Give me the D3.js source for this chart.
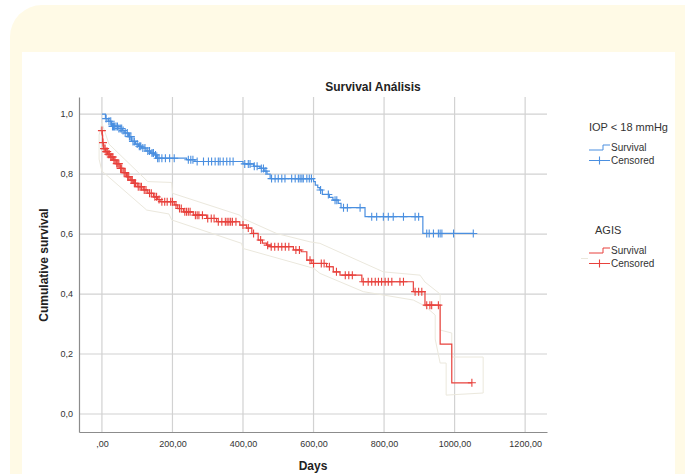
<!DOCTYPE html>
<html>
<head>
<meta charset="utf-8">
<script src="https://cdn.jsdelivr.net/npm/d3@7"></script>
<style>
  body { margin: 0; background: #ffffff; }
  svg { display: block; font-family: "Liberation Sans", Arial, sans-serif; }
</style>
</head>
<body>
<svg id="chart" width="685" height="474"></svg>
<script>
// Kaplan-Meier steps: [day, cumulative survival after that day]
var iopSteps = [[0,1.0],[10,0.985],[18,0.976],[27,0.959],[45,0.952],[58,0.945],[65,0.937],[75,0.925],
  [84,0.909],[95,0.9],[104,0.893],[112,0.887],[125,0.877],[138,0.87],[150,0.864],[155,0.853],
  [240,0.848],[264,0.842],[400,0.834],[430,0.826],[448,0.819],[460,0.81],[468,0.8],[477,0.785],
  [600,0.775],[605,0.763],[612,0.755],[618,0.747],[625,0.732],[645,0.722],[655,0.713],[670,0.702],
  [678,0.688],[746,0.658],[910,0.602]];
var iopEnd = 1053;
var iopCensored = [12,20,25,30,33,36,40,44,48,52,56,60,66,72,78,82,88,92,100,106,110,116,122,130,135,
  142,146,152,158,162,170,180,192,205,245,252,258,270,288,302,311,321,330,335,344,354,363,372,
  405,415,420,432,440,452,458,465,481,491,500,510,519,538,548,557,562,567,571,581,588,594,
  620,642,661,666,685,696,732,765,779,798,812,826,855,888,898,921,928,940,954,959,964,997,1053];

var agisSteps = [[0,0.945],[1,0.93],[2,0.905],[4,0.885],[10,0.875],[16,0.866],[24,0.857],[32,0.847],
  [40,0.835],[51,0.819],[60,0.805],[70,0.791],[80,0.78],[89,0.769],[100,0.758],[117,0.747],
  [130,0.736],[146,0.724],[158,0.715],[165,0.708],[205,0.697],[215,0.685],[231,0.674],[259,0.663],
  [297,0.652],[325,0.641],[391,0.63],[410,0.62],[425,0.602],[443,0.58],[455,0.57],[467,0.563],
  [477,0.558],[543,0.547],[565,0.541],[581,0.513],[595,0.502],[637,0.491],[656,0.474],[675,0.463],
  [737,0.441],[883,0.408],[916,0.363],[959,0.233],[992,0.104]];
var agisEnd = 1049;
var agisCensored = [0,3,6,9,12,15,18,21,25,28,31,34,37,42,45,48,53,56,63,66,73,76,83,86,92,95,103,108,
  112,120,125,135,140,150,155,162,170,178,185,195,200,210,220,225,235,240,245,250,265,270,275,285,
  300,310,318,330,340,350,355,360,365,370,380,400,415,430,450,470,480,490,500,510,520,530,550,560,
  590,600,622,630,645,665,690,700,710,741,755,765,775,784,793,803,812,822,845,855,888,898,907,
  921,930,935,954,1049];

// 95% confidence band outline of AGIS, read as corner points
var agisUpper = [[0,0.97],[20,0.90],[130,0.775],[198,0.772],[200,0.736],[391,0.663],[400,0.652],
  [495,0.602],[590,0.574],[618,0.569],[798,0.474],[902,0.463],[916,0.44],[959,0.40],[959,0.28],
  [992,0.27],[992,0.19],[1081,0.19],[1081,0.07]];
var agisLower = [[0,0.97],[-8,0.93],[-8,0.85],[0,0.81],[127,0.68],[190,0.667],[198,0.647],[396,0.569],[400,0.552],
  [600,0.486],[618,0.469],[741,0.408],[883,0.38],[916,0.36],[945,0.33],[945,0.25],[959,0.17],
  [976,0.17],[976,0.063],[1081,0.07]];

var xTicks = [0, 200, 400, 600, 800, 1000, 1200];
var yTicks = [0, 0.2, 0.4, 0.6, 0.8, 1.0];

var blue = "#4a8fe0", red = "#e8413c", band = "#ebe8dd";

var svg = d3.select("#chart");

// card background
svg.append("rect").attr("x", 10).attr("y", 5).attr("width", 720).attr("height", 520)
  .attr("rx", 32).attr("fill", "#fffae6");
svg.append("rect").attr("x", 22).attr("y", 52).attr("width", 653).attr("height", 430)
  .attr("fill", "#ffffff");

var x = d3.scaleLinear().domain([-65, 1262]).range([79, 547]);
var y = d3.scaleLinear().domain([-0.06, 1.057]).range([432, 97]);

// grid
svg.append("g").selectAll("line").data(xTicks).join("line")
  .attr("x1", d => x(d)).attr("x2", d => x(d)).attr("y1", 97).attr("y2", 432)
  .attr("stroke", "#d2d2d2").attr("stroke-width", 1.2);
svg.append("g").selectAll("line").data(yTicks).join("line")
  .attr("x1", 79).attr("x2", 547).attr("y1", d => y(d)).attr("y2", d => y(d))
  .attr("stroke", "#d2d2d2").attr("stroke-width", 1.2);

// axes
var xAxis = d3.axisBottom(x).tickValues(xTicks).tickSize(0).tickPadding(9)
  .tickFormat(d => d === 0 ? ",00" : d.toFixed(2).replace(".", ","));
var yAxis = d3.axisLeft(y).tickValues(yTicks).tickSize(0).tickPadding(6)
  .tickFormat(d => d.toFixed(1).replace(".", ","));

var gx = svg.append("g").attr("transform", "translate(0,432)").call(xAxis);
var gy = svg.append("g").attr("transform", "translate(79,0)").call(yAxis);
[gx, gy].forEach(function(g) {
  g.select(".domain").attr("stroke", "#8c8c8c").attr("stroke-width", 1.2);
  g.selectAll("text").attr("font-size", 9).attr("fill", "#333").attr("font-family", "Liberation Sans, Arial, sans-serif");
});

// confidence band
var bandLine = d3.line().x(d => x(d[0])).y(d => y(d[1]));
svg.append("path").attr("d", bandLine(agisUpper)).attr("fill", "none").attr("stroke", band).attr("stroke-width", 1);
svg.append("path").attr("d", bandLine(agisLower)).attr("fill", "none").attr("stroke", band).attr("stroke-width", 1);

// survival curves
var stepLine = d3.line().curve(d3.curveStepAfter).x(d => x(d[0])).y(d => y(d[1]));

function survivalAt(steps, t) {
  var s = steps[0][1];
  for (var i = 0; i < steps.length; i++) {
    if (steps[i][0] <= t) s = steps[i][1];
  }
  return s;
}

function drawGroup(steps, end, censored, color) {
  var pts = steps.concat([[end, steps[steps.length - 1][1]]]);
  svg.append("path").attr("d", stepLine(pts)).attr("fill", "none")
    .attr("stroke", color).attr("stroke-width", 1.2);
  svg.append("g").selectAll("path").data(censored).join("path")
    .attr("d", function(t) {
      var cx = x(t), cy = y(survivalAt(steps, t));
      return "M" + (cx - 4) + "," + cy + "H" + (cx + 4) + "M" + cx + "," + (cy - 4) + "V" + (cy + 4);
    })
    .attr("stroke", color).attr("stroke-width", 1.1).attr("fill", "none");
}

drawGroup(agisSteps, agisEnd, agisCensored, red);
drawGroup(iopSteps, iopEnd, iopCensored, blue);

// titles
svg.append("text").attr("x", 373).attr("y", 91).attr("text-anchor", "middle")
  .attr("font-size", 12).attr("font-weight", "bold").attr("fill", "#222").text("Survival Análisis");
svg.append("text").attr("transform", "translate(48,265) rotate(-90)").attr("text-anchor", "middle")
  .attr("font-size", 12).attr("font-weight", "bold").attr("fill", "#222").text("Cumulative survival");
svg.append("text").attr("x", 313).attr("y", 470).attr("text-anchor", "middle")
  .attr("font-size", 12).attr("font-weight", "bold").attr("fill", "#222").text("Days");

// legend
function legendBlock(title, tx, ty, color, showBand) {
  var g = svg.append("g").attr("font-size", 10).attr("fill", "#333");
  g.append("text").attr("x", tx).attr("y", ty).attr("font-size", 11).text(title);
  var sy = ty + 19;
  g.append("path").attr("d", "M589," + sy + "H603V" + (sy - 5) + "H610")
    .attr("fill", "none").attr("stroke", color).attr("stroke-width", 1);
  g.append("text").attr("x", 611).attr("y", sy + 1).text("Survival");
  var cy = sy + 10.5;
  if (showBand) {
    g.append("line").attr("x1", 581).attr("x2", 588).attr("y1", cy - 5).attr("y2", cy - 5)
      .attr("stroke", band).attr("stroke-width", 1);
  }
  g.append("path").attr("d", "M589," + cy + "H610M599.5," + (cy - 4) + "V" + (cy + 4))
    .attr("fill", "none").attr("stroke", color).attr("stroke-width", 1.1);
  g.append("text").attr("x", 611).attr("y", cy + 3.5).text("Censored");
}
legendBlock("IOP < 18 mmHg", 589, 131, blue, false);
legendBlock("AGIS", 595, 234, red, true);
</script>
</body>
</html>
